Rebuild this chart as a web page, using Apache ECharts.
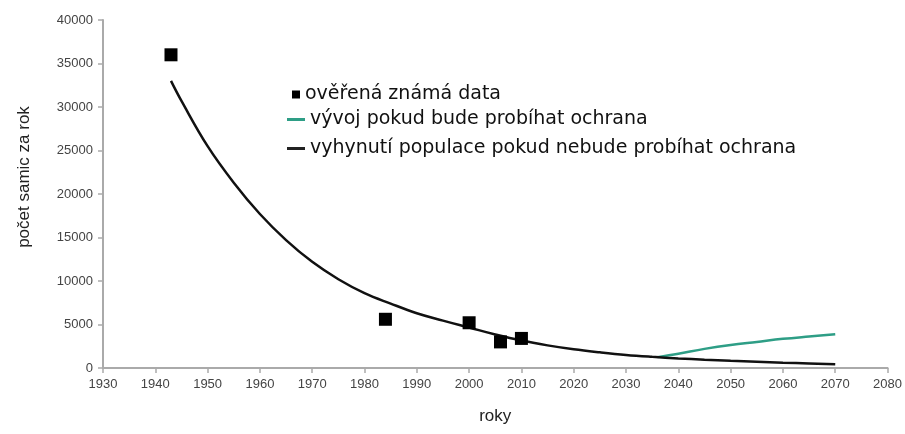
<!DOCTYPE html>
<html>
<head>
<meta charset="utf-8">
<script src="https://cdn.jsdelivr.net/npm/echarts@6/dist/echarts.min.js"></script>
<style>
  html, body { margin: 0; padding: 0; background: #fff; }
  #chart { width: 905px; height: 434px; }
</style>
</head>
<body>
<div id="chart"></div>
<script>
// known data points (year, females per year)
let knownYears = [1943, 1984, 2000, 2006, 2010];
let knownValues = [36000, 5600, 5200, 3000, 3400];

// decline without protection
let declineYears = [1943, 1945, 1950, 1955, 1960, 1965, 1970, 1975, 1980, 1985, 1990, 1995, 2000, 2005, 2010, 2015, 2020, 2025, 2030, 2035, 2040, 2045, 2050, 2055, 2060, 2065, 2070];
let declineValues = [33000, 30700, 25500, 21300, 17700, 14700, 12200, 10200, 8600, 7400, 6300, 5450, 4650, 3850, 3150, 2600, 2150, 1800, 1500, 1280, 1100, 950, 820, 710, 610, 520, 420];

// development with protection
let protectYears = [2036, 2040, 2045, 2050, 2055, 2060, 2065, 2070];
let protectValues = [1250, 1650, 2200, 2650, 3000, 3350, 3620, 3870];

let names = [
  'ověřená známá data',
  'vývoj pokud bude probíhat ochrana',
  'vyhynutí populace pokud nebude probíhat ochrana'
];

let pairs = (xs, ys) => xs.map((x, i) => [x, ys[i]]);

let myChart = echarts.init(document.getElementById('chart'), null, { renderer: 'canvas' });
let font = 'Arial, "Liberation Sans", sans-serif';
let legendFont = '"DejaVu Sans", Arial, sans-serif';
let option = {
  animation: false,
  backgroundColor: '#fff',
  textStyle: { fontFamily: font },
  grid: { left: 103, right: 16, top: 20, bottom: 66 },
  legend: [
    {
      data: [names[0]],
      orient: 'vertical',
      left: 287,
      top: 80,
      icon: 'rect',
      itemWidth: 8,
      itemHeight: 8,
      textStyle: { fontSize: 19, color: '#111', fontFamily: legendFont }
    },
    {
      data: [names[1], names[2]],
      orient: 'vertical',
      left: 282,
      top: 105,
      itemGap: 10,
      icon: 'rect',
      itemWidth: 18,
      itemHeight: 3,
      textStyle: { fontSize: 19, color: '#111', fontFamily: legendFont }
    }
  ],
  xAxis: {
    type: 'value',
    min: 1930,
    max: 2080,
    interval: 10,
    name: 'roky',
    nameLocation: 'middle',
    nameGap: 40,
    nameTextStyle: { fontSize: 17, color: '#222' },
    axisLine: { lineStyle: { color: '#aaa', width: 2 } },
    axisTick: { show: true, length: 5, lineStyle: { color: '#aaa', width: 1.5 } },
    axisLabel: { color: '#444', fontSize: 13, margin: 10, formatter: v => String(v) },
    splitLine: { show: false }
  },
  yAxis: {
    type: 'value',
    min: 0,
    max: 40000,
    interval: 5000,
    name: 'počet samic za rok',
    nameLocation: 'middle',
    nameGap: 70,
    nameRotate: 90,
    nameTextStyle: { fontSize: 17, color: '#222', padding: [0, 0, 0, 34] },
    axisLine: { show: true, lineStyle: { color: '#aaa', width: 2 } },
    axisTick: { show: true, length: 5, lineStyle: { color: '#aaa', width: 1.5 } },
    axisLabel: { color: '#444', fontSize: 13, margin: 10, formatter: v => String(v) },
    splitLine: { show: false }
  },
  series: [
    {
      name: names[2],
      type: 'line',
      data: pairs(declineYears, declineValues),
      smooth: 0.4,
      showSymbol: false,
      lineStyle: { color: '#111', width: 2.5 },
      itemStyle: { color: '#222' },
      z: 3
    },
    {
      name: names[1],
      type: 'line',
      data: pairs(protectYears, protectValues),
      smooth: 0.4,
      showSymbol: false,
      lineStyle: { color: '#2e9e86', width: 2.5 },
      itemStyle: { color: '#2e9e86' },
      z: 2
    },
    {
      name: names[0],
      type: 'scatter',
      data: pairs(knownYears, knownValues),
      symbol: 'rect',
      symbolSize: 13,
      itemStyle: { color: '#000', opacity: 1 },
      z: 4
    }
  ]
};

option && myChart.setOption(option);
</script>
</body>
</html>
